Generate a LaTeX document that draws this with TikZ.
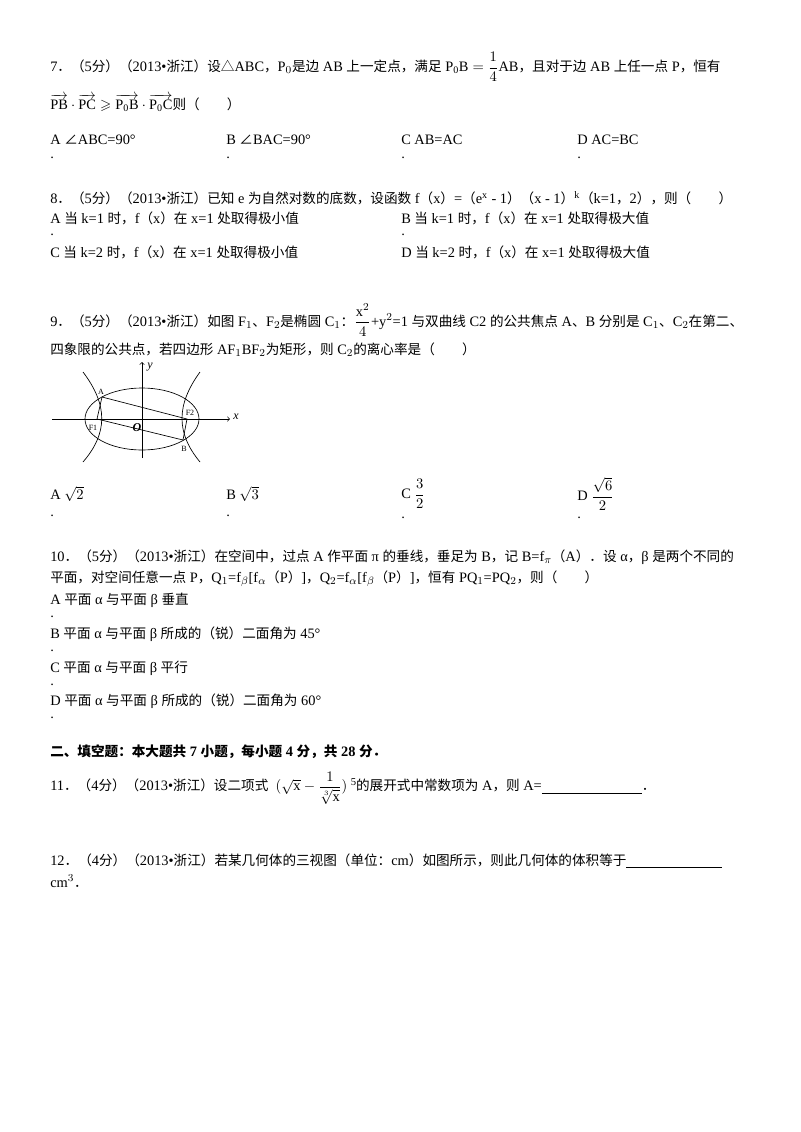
\documentclass[tikz,border=0pt]{standalone}
\usepackage{amsmath,amssymb}
\usepackage{fontspec}
\setmainfont{Liberation Serif}
\newfontfamily\cjk{Noto Sans CJK SC}
\newcommand{\zh}[1]{{\cjk\fontsize{10.2}{11}\selectfont #1}}
\begin{document}
\begin{tikzpicture}[x=0.75pt,y=-0.75pt,
  txt/.style={anchor=west,inner sep=0pt,font=\fontsize{10.8}{12}\selectfont},
  fig/.style={line width=0.5pt},
  lbl/.style={inner sep=0pt,font=\fontsize{6}{7}\selectfont}]
\useasboundingbox[fill=white] (0,0) rectangle (800,1132);
% Q7
\node[txt] (q7a) at (50,67) {7\zh{．（}5\zh{分）（}2013•\zh{浙江）设△}ABC\zh{，}P$_0$\zh{是边} AB \zh{上一定点，满足} $\mathrm{P_0B}=\dfrac{1}{4}\mathrm{AB}$\zh{，且对于边} AB \zh{上任一点} P\zh{，恒有}};
\node[txt] (q7b) at (50,103) {$\overrightarrow{\mathrm{PB}}\cdot\overrightarrow{\mathrm{PC}}\geqslant\overrightarrow{\mathrm{P_0B}}\cdot\overrightarrow{\mathrm{P_0C}}$\zh{则（　　）}};
\node[txt] (q7A) at (50,140) {A \zh{∠}ABC=90°};
\node[txt] (q7B) at (226,140) {B \zh{∠}BAC=90°};
\node[txt] (q7C) at (401,140) {C AB=AC};
\node[txt] (q7D) at (577,140) {D AC=BC};
\foreach \x [count=\i] in {50,226,401,577}{\node[txt] (d7\i) at (\x,158) {.};}
% Q8
\node[txt] (q8) at (50,198) {8\zh{．（}5\zh{分）（}2013•\zh{浙江）已知} e \zh{为自然对数的底数，设函数} f\zh{（}x\zh{）}=\zh{（}e$^{\mathrm{x}}$ - 1\zh{）（}x - 1\zh{）}$^{\mathrm{k}}$\zh{（}k=1\zh{，}2\zh{），则（　　）}};
\node[txt] (q8A) at (50,218) {A \zh{当} k=1 \zh{时，}f\zh{（}x\zh{）在} x=1 \zh{处取得极小值}};
\node[txt] (q8B) at (401,218) {B \zh{当} k=1 \zh{时，}f\zh{（}x\zh{）在} x=1 \zh{处取得极大值}};
\node[txt] (d8a) at (50,235) {.};
\node[txt] (d8b) at (401,235) {.};
\node[txt] (q8C) at (50,252) {C \zh{当} k=2 \zh{时，}f\zh{（}x\zh{）在} x=1 \zh{处取得极小值}};
\node[txt] (q8D) at (401,252) {D \zh{当} k=2 \zh{时，}f\zh{（}x\zh{）在} x=1 \zh{处取得极大值}};
% Q9
\node[txt] (q9a) at (50,320) {9\zh{．（}5\zh{分）（}2013•\zh{浙江）如图} F$_1$\zh{、}F$_2$\zh{是椭圆} C$_1$\zh{：}$\dfrac{\mathrm{x}^2}{4}$+y$^2$=1 \zh{与双曲线} C2 \zh{的公共焦点} A\zh{、}B \zh{分别是} C$_1$\zh{、}C$_2$\zh{在第二、}};
\node[txt] (q9b) at (50,350) {\zh{四象限的公共点，若四边形} AF$_1$BF$_2$\zh{为矩形，则} C$_2$\zh{的离心率是（　　）}};
% figure
\coordinate (O) at (142,419);
\coordinate (A) at (102,397);
\coordinate (F1) at (97,419);
\coordinate (F2) at (187,419);
\coordinate (B) at (183,440);
\draw[fig,->] (52,419) -- (230,419);
\draw[fig,->] (142,458) -- (142,362);
\node[lbl,font=\itshape\fontsize{9}{9}\selectfont] (xl) at (236,417) {x};
\node[lbl,font=\itshape\fontsize{9}{9}\selectfont] (yl) at (150,367) {y};
\draw[fig] (O) ellipse [x radius=57, y radius=31];
\draw[fig] (83,372) .. controls (108,405) and (108,433) .. (83,462);
\draw[fig] (200,372) .. controls (176,405) and (176,433) .. (200,462);
\draw[fig] (A) -- (F2) -- (B) -- (F1) -- (A);
\node[lbl] (la) at (101,392) {A};
\node[lbl] (lf1) at (93,428) {F1};
\node[lbl] (lf2) at (190,413) {F2};
\node[lbl] (lb) at (184,449) {B};
\node[lbl,font=\bfseries\itshape\fontsize{9}{9}\selectfont] (lo) at (137,428) {O};
\node[txt] (q9A) at (50,494) {A $\sqrt{2}$};
\node[txt] (q9B) at (226,494) {B $\sqrt{3}$};
\node[txt] (q9C) at (401,494) {C $\dfrac{3}{2}$};
\node[txt] (q9D) at (577,494) {D $\dfrac{\sqrt{6}}{2}$};
\foreach \x [count=\i] in {50,226}{\node[txt] (d9\i) at (\x,516) {.};}
\node[txt] (d93) at (401,518) {.};
\node[txt] (d94) at (577,518) {.};
% Q10
\node[txt] (q10a) at (50,557) {10\zh{．（}5\zh{分）（}2013•\zh{浙江）在空间中，过点} A \zh{作平面} π \zh{的垂线，垂足为} B\zh{，记} B=f$_\pi$\zh{（}A\zh{）．设} α\zh{，}β \zh{是两个不同的}};
\node[txt] (q10b) at (50,579) {\zh{平面，对空间任意一点} P\zh{，}Q$_1$=f$_\beta$[f$_\alpha$\zh{（}P\zh{）}]\zh{，}Q$_2$=f$_\alpha$[f$_\beta$\zh{（}P\zh{）}]\zh{，恒有} PQ$_1$=PQ$_2$\zh{，则（　　）}};
\node[txt] (q10A) at (50,600) {A \zh{平面} α \zh{与平面} β \zh{垂直}};
\node[txt] (d10a) at (50,617) {.};
\node[txt] (q10B) at (50,634) {B \zh{平面} α \zh{与平面} β \zh{所成的（锐）二面角为} 45°};
\node[txt] (d10b) at (50,651) {.};
\node[txt] (q10C) at (50,668) {C \zh{平面} α \zh{与平面} β \zh{平行}};
\node[txt] (d10c) at (50,685) {.};
\node[txt] (q10D) at (50,701) {D \zh{平面} α \zh{与平面} β \zh{所成的（锐）二面角为} 60°};
\node[txt] (d10d) at (50,718) {.};
% heading
\node[txt,font=\bfseries\fontsize{10.8}{12}\selectfont] (h2) at (50,752) {{\cjk\bfseries\fontsize{10.2}{11}\selectfont 二、填空题：本大题共} 7 {\cjk\bfseries\fontsize{10.2}{11}\selectfont 小题，每小题} 4 {\cjk\bfseries\fontsize{10.2}{11}\selectfont 分，共} 28 {\cjk\bfseries\fontsize{10.2}{11}\selectfont 分．}};
% Q11
\node[txt] (q11) at (50,788) {11\zh{．（}4\zh{分）（}2013•\zh{浙江）设二项式}\ \ $(\sqrt{\mathrm{x}}-\dfrac{1}{\sqrt[3]{\mathrm{x}}})$\ \raisebox{4pt}{\fontsize{8}{8}\selectfont 5}\zh{的展开式中常数项为} A\zh{，则} A=\underline{\hspace{75pt}}\zh{．}};
% Q12
\node[txt] (q12) at (50,861) {12\zh{．（}4\zh{分）（}2013•\zh{浙江）若某几何体的三视图（单位：}cm\zh{）如图所示，则此几何体的体积等于}\underline{\hspace{72pt}}};
\node[txt] (q12b) at (50,881) {cm$^3$\zh{．}};
\end{tikzpicture}
\end{document}
